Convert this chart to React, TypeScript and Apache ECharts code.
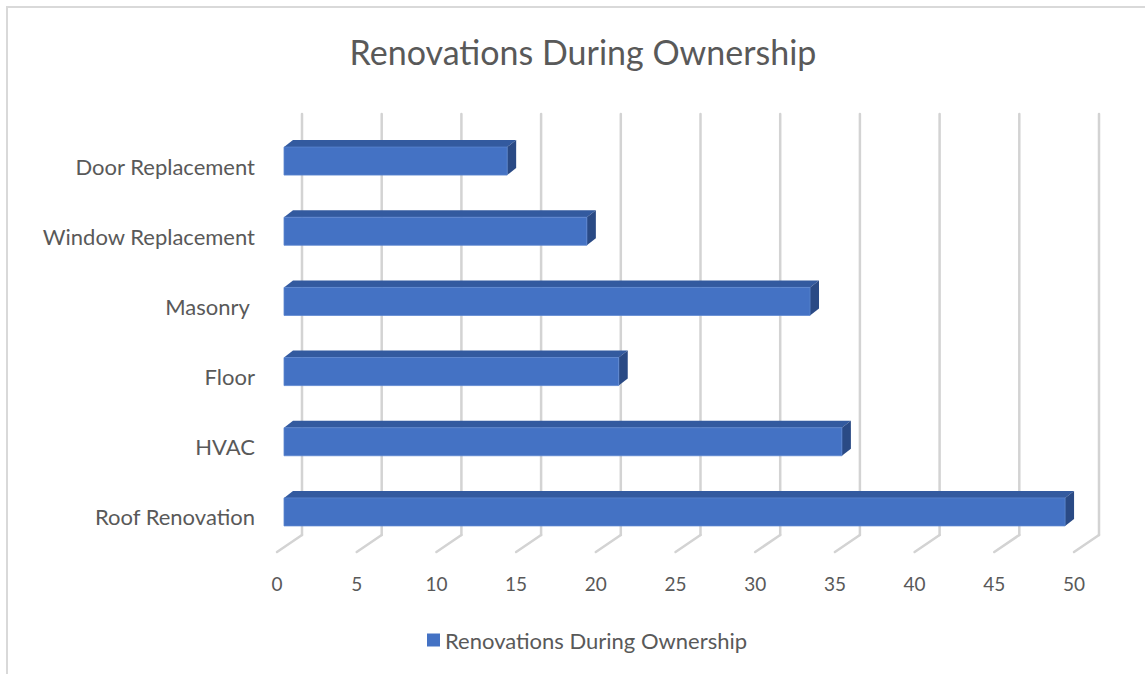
import React, { useEffect, useRef } from 'react';
import * as echarts from 'echarts';

const categories = ['Roof Renovation', 'HVAC', 'Floor', 'Masonry ', 'Window Replacement', 'Door Replacement'];
const values = [49, 35, 21, 33, 19, 14];
const xTicks = [0, 5, 10, 15, 20, 25, 30, 35, 40, 45, 50];
const seriesName = 'Renovations During Ownership';
const titleText = 'Renovations During Ownership';

export default function App() {
  const ref = useRef<HTMLDivElement>(null);
  useEffect(() => {
    const chart = echarts.init(ref.current as HTMLDivElement, null, { renderer: 'svg' });
    const WALL_DX = 25, WALL_DY = -17;
    const BAR_OX = 7, BAR_OY = -5, BAR_DX = 9, BAR_DY = -7, BAR_H = 28;
    const gridColor = '#d3d3d3';
    chart.setOption({
      animation: false,
      backgroundColor: '#ffffff',
      textStyle: { fontFamily: 'Lato' },
      title: {
        text: titleText,
        left: 578,
        textAlign: 'center',
        top: 29,
        textStyle: { fontFamily: 'Lato', fontSize: 34, fontWeight: 'normal', color: '#595959' },
      },
      legend: {
        data: [{ name: seriesName, icon: 'rect', itemStyle: { color: '#4472C4' } }],
        left: 422,
        top: 624,
        itemWidth: 13,
        itemHeight: 13,
        itemGap: 10,
        textStyle: { fontFamily: 'Lato', fontSize: 22, color: '#595959' },
      },
      grid: { left: 277, right: 71, top: 131, bottom: 122 },
      xAxis: {
        type: 'value',
        min: 0,
        max: 50,
        interval: 5,
        axisLine: { show: false },
        axisTick: { show: false },
        splitLine: { show: false },
        axisLabel: { fontFamily: 'Lato', fontSize: 19, color: '#595959', margin: 22 },
      },
      yAxis: {
        type: 'category',
        data: categories,
        axisLine: { show: false },
        axisTick: { show: false },
        splitLine: { show: false },
        axisLabel: { fontFamily: 'Lato', fontSize: 22, color: '#595959', margin: 22 },
      },
      graphic: [
        {
          type: 'rect',
          silent: true,
          shape: { x: 7, y: 7, width: 1200, height: 700 },
          style: { fill: 'none', stroke: '#d9d9d9', lineWidth: 2 },
        },
      ],
      series: [
        {
          type: 'custom',
          name: 'wall',
          silent: true,
          z: 1,
          data: xTicks.map((v) => [v, 0]),
          encode: { x: 0, y: 1 },
          renderItem: (params: any, api: any) => {
            const cs = params.coordSys;
            const x = api.coord([api.value(0), 0])[0];
            const bottom = cs.y + cs.height;
            const top = cs.y;
            const style = { stroke: gridColor, lineWidth: 2.5, lineCap: 'round' };
            return {
              type: 'group',
              children: [
                { type: 'line', shape: { x1: x, y1: bottom, x2: x + WALL_DX, y2: bottom + WALL_DY }, style },
                { type: 'line', shape: { x1: x + WALL_DX, y1: bottom + WALL_DY, x2: x + WALL_DX, y2: top + WALL_DY }, style },
              ],
            };
          },
        },
        {
          type: 'custom',
          name: seriesName,
          z: 2,
          itemStyle: { color: '#4472C4' },
          data: values.map((v, i) => [v, i]),
          encode: { x: 0, y: 1 },
          renderItem: (params: any, api: any) => {
            const idx = api.value(1);
            const p0 = api.coord([0, idx]);
            const p1 = api.coord([api.value(0), idx]);
            const fx0 = p0[0] + BAR_OX;
            const fx1 = p1[0] + BAR_OX;
            const fy0 = p0[1] + BAR_OY - BAR_H / 2;
            const fy1 = p0[1] + BAR_OY + BAR_H / 2;
            return {
              type: 'group',
              children: [
                {
                  type: 'polygon',
                  shape: { points: [[fx0, fy0], [fx1, fy0], [fx1 + BAR_DX, fy0 + BAR_DY], [fx0 + BAR_DX, fy0 + BAR_DY]] },
                  style: { fill: '#335a9f' },
                },
                {
                  type: 'polygon',
                  shape: { points: [[fx1, fy0], [fx1 + BAR_DX, fy0 + BAR_DY], [fx1 + BAR_DX, fy1 + BAR_DY], [fx1, fy1]] },
                  style: { fill: '#2a4a85' },
                },
                {
                  type: 'rect',
                  shape: { x: fx0, y: fy0, width: fx1 - fx0, height: fy1 - fy0 },
                  style: { fill: '#4472C4', stroke: '#5b85cf', lineWidth: 0.8 },
                },
              ],
            };
          },
        },
      ],
    });
    return () => chart.dispose();
  }, []);
  return <div ref={ref} style={{ position: 'absolute', left: 0, top: 0, width: 1145, height: 674 }} />;
}
